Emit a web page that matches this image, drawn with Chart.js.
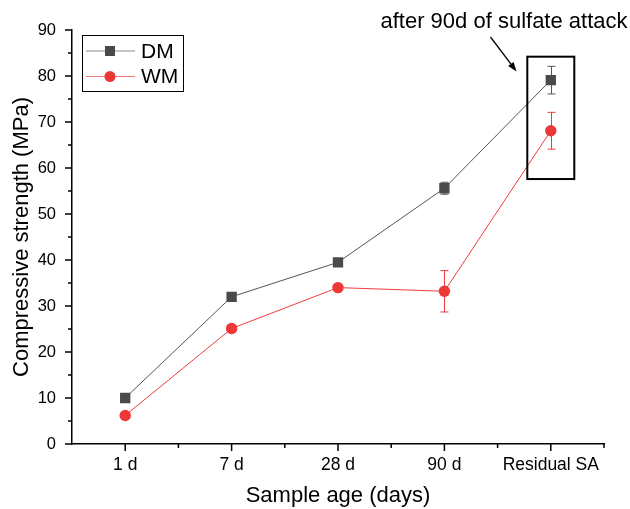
<!DOCTYPE html>
<html>
<head>
<meta charset="utf-8">
<script src="https://cdn.jsdelivr.net/npm/chart.js@4"></script>
<style>
  html, body { margin: 0; padding: 0; background: #fff; }
</style>
</head>
<body>
<canvas id="strengthChart" width="630" height="509"></canvas>
<script>
// data
const ages = ['1 d', '7 d', '28 d', '90 d', 'Residual SA'];
const dmStrength = [10, 32, 39.5, 55.6, 79.1];
const dmError = [0.3, 0.9, 0.6, 1.3, 3];
const wmStrength = [6.2, 25.1, 34, 33.2, 68.1];
const wmError = [0.3, 0.5, 0.4, 4.5, 4];
const yTicks = [0, 10, 20, 30, 40, 50, 60, 70, 80, 90];
const noteText = 'after 90d of sulfate attack';

const FONT = "'Liberation Sans', Arial, sans-serif";

// error bars behind the markers
const errorBars = {
  id: 'errorBars',
  beforeDatasetsDraw(chart) {
    const { ctx, scales: { x, y } } = chart;
    chart.data.datasets.forEach(ds => {
      ctx.save();
      ctx.strokeStyle = ds.errorColor;
      ctx.lineWidth = 1;
      ds.data.forEach((v, i) => {
        const e = ds.errors[i];
        const px = Math.round(x.getPixelForValue(i)) + 0.5;
        const top = y.getPixelForValue(v + e);
        const bot = y.getPixelForValue(v - e);
        ctx.beginPath();
        ctx.moveTo(px, top); ctx.lineTo(px, bot);
        ctx.moveTo(px - 4, top); ctx.lineTo(px + 4, top);
        ctx.moveTo(px - 4, bot); ctx.lineTo(px + 4, bot);
        ctx.stroke();
      });
      ctx.restore();
    });
  }
};

// Origin style tick marks (major + minor, outward)
const axisTicks = {
  id: 'axisTicks',
  afterDraw(chart) {
    const { ctx, chartArea, scales: { x, y } } = chart;
    ctx.save();
    ctx.strokeStyle = '#000';
    ctx.lineWidth = 1.5;
    ctx.beginPath();
    const half = (x.getPixelForValue(1) - x.getPixelForValue(0)) / 2;
    ages.forEach((a, i) => {
      const px = x.getPixelForValue(i);
      ctx.moveTo(px, chartArea.bottom); ctx.lineTo(px, chartArea.bottom + 7);
      ctx.moveTo(px + half, chartArea.bottom); ctx.lineTo(px + half, chartArea.bottom + 4);
    });
    for (let v = 0; v <= 90; v += 5) {
      const py = y.getPixelForValue(v);
      const len = v % 10 === 0 ? 7 : 4;
      ctx.moveTo(chartArea.left, py); ctx.lineTo(chartArea.left - len, py);
    }
    ctx.stroke();
    ctx.restore();
  }
};

// legend box, annotation box, arrow and note
const extras = {
  id: 'extras',
  afterDraw(chart) {
    const { ctx, scales: { x, y } } = chart;
    ctx.save();

    // legend
    ctx.strokeStyle = '#000';
    ctx.lineWidth = 1;
    ctx.strokeRect(82.5, 35.5, 101, 56);
    ctx.font = '21px ' + FONT;
    ctx.textBaseline = 'middle';
    ctx.textAlign = 'left';
    chart.data.datasets.forEach((ds, i) => {
      const ly = 51 + i * 25.5;
      ctx.strokeStyle = ds.borderColor;
      ctx.globalAlpha = 0.7;
      ctx.beginPath();
      ctx.moveTo(86, ly); ctx.lineTo(135, ly);
      ctx.stroke();
      ctx.globalAlpha = 1;
      ctx.fillStyle = ds.pointBackgroundColor;
      if (ds.pointStyle === 'rect') {
        ctx.fillRect(105, ly - 5, 10, 10);
      } else {
        ctx.beginPath();
        ctx.arc(110, ly, 5.5, 0, Math.PI * 2);
        ctx.fill();
      }
      ctx.fillStyle = '#000';
      ctx.fillText(ds.label, 141, ly + 1);
    });

    // box around the residual points
    const cx = x.getPixelForValue(ages.length - 1);
    const top = y.getPixelForValue(84.2);
    const bot = y.getPixelForValue(57.6);
    ctx.strokeStyle = '#000';
    ctx.lineWidth = 2;
    ctx.strokeRect(cx - 23.5, top, 47, bot - top);

    // arrow
    const x0 = 490.5, y0 = 37, x1 = 516.5, y1 = 71.5;
    const ang = Math.atan2(y1 - y0, x1 - x0);
    ctx.lineWidth = 1.3;
    ctx.beginPath();
    ctx.moveTo(x0, y0);
    ctx.lineTo(x1 - 6 * Math.cos(ang), y1 - 6 * Math.sin(ang));
    ctx.stroke();
    ctx.fillStyle = '#000';
    ctx.beginPath();
    ctx.moveTo(x1, y1);
    ctx.lineTo(x1 - 10 * Math.cos(ang - 0.35), y1 - 10 * Math.sin(ang - 0.35));
    ctx.lineTo(x1 - 10 * Math.cos(ang + 0.35), y1 - 10 * Math.sin(ang + 0.35));
    ctx.closePath();
    ctx.fill();

    // note
    ctx.font = '22px ' + FONT;
    ctx.textAlign = 'center';
    ctx.textBaseline = 'alphabetic';
    ctx.fillText(noteText, 504, 28);
    ctx.restore();
  }
};

const ctx = document.getElementById('strengthChart').getContext('2d');
new Chart(ctx, {
  type: 'line',
  data: {
    labels: ages,
    datasets: [{
      label: 'DM',
      data: dmStrength,
      errors: dmError,
      errorColor: '#555555',
      borderColor: '#555555',
      borderWidth: 1,
      pointStyle: 'rect',
      pointRadius: 7.3,
      pointBackgroundColor: '#4a4a4a',
      pointBorderWidth: 0,
      tension: 0
    }, {
      label: 'WM',
      data: wmStrength,
      errors: wmError,
      errorColor: '#ee3b3b',
      borderColor: '#f03c3c',
      borderWidth: 1,
      pointStyle: 'circle',
      pointRadius: 5.7,
      pointBackgroundColor: '#ee3838',
      pointBorderWidth: 0,
      tension: 0
    }]
  },
  options: {
    responsive: false,
    animation: false,
    layout: { padding: { top: 30, right: 26, left: 0, bottom: 0 } },
    plugins: {
      legend: { display: false },
      tooltip: { enabled: false }
    },
    scales: {
      x: {
        offset: true,
        grid: { display: false, drawTicks: false },
        border: { display: true, color: '#000', width: 1.5 },
        ticks: { color: '#000', padding: 11, font: { family: FONT, size: 17.5 } },
        title: {
          display: true,
          text: 'Sample age (days)',
          color: '#000',
          font: { family: FONT, size: 22 },
          padding: { top: 0, bottom: 0 }
        },
        afterFit: scale => { scale.height = 65; }
      },
      y: {
        min: 0,
        max: 90,
        afterBuildTicks: scale => { scale.ticks = yTicks.map(v => ({ value: v })); },
        grid: { display: false, drawTicks: false },
        border: { display: true, color: '#000', width: 1.5 },
        ticks: { color: '#000', padding: 16, font: { family: FONT, size: 16.5 } },
        title: {
          display: true,
          text: 'Compressive strength (MPa)',
          color: '#000',
          font: { family: FONT, size: 22 },
          padding: { top: 9, bottom: 0 }
        },
        afterFit: scale => { scale.width = 72; }
      }
    }
  },
  plugins: [errorBars, axisTicks, extras]
});
</script>
</body>
</html>
